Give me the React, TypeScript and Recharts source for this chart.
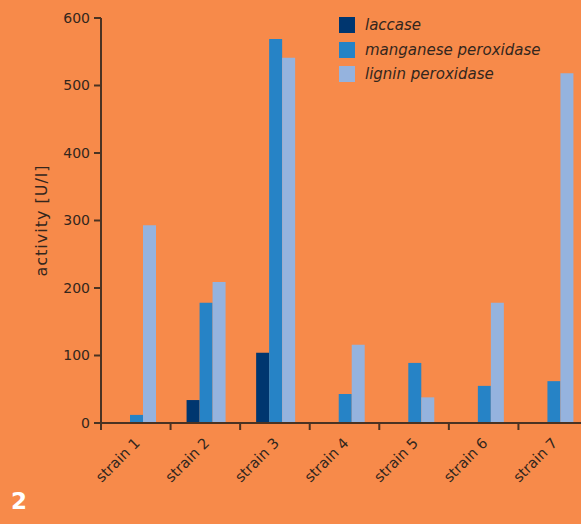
import React from "react";
import { BarChart, Bar, XAxis, YAxis } from "recharts";

const categories = ["strain 1", "strain 2", "strain 3", "strain 4", "strain 5", "strain 6", "strain 7"];
const laccase = [0, 34, 104, 0, 0, 0, 0];
const manganesePeroxidase = [12, 178, 569, 43, 89, 55, 62];
const ligninPeroxidase = [293, 209, 541, 116, 38, 178, 518];
const yTicks = [0, 100, 200, 300, 400, 500, 600];
const seriesNames = ["laccase", "manganese peroxidase", "lignin peroxidase"];
const figureNumber = "2";

const data = categories.map((name, i) => ({
  name,
  laccase: laccase[i],
  mnp: manganesePeroxidase[i],
  lip: ligninPeroxidase[i],
}));

const BG = "#F78A4A";
const AXIS = "#4a3222";
const TEXT = "#33261d";
const COLORS = ["#00366F", "#2683C6", "#95B3DE"];
const FONT = "'DejaVu Sans', 'Noto Sans', sans-serif";

const CHART_W = 590;
const CHART_H = 524;
const M = { top: 18, right: 2, left: 0, bottom: 1 };
const Y_W = 101;
const X_H = 100;
const PLOT_W = CHART_W - M.left - M.right - Y_W;
const BAND = PLOT_W / categories.length;
const AXIS_Y = CHART_H - M.bottom - X_H;

const XTick = (props: any) => {
  const { x, payload } = props;
  const bx = x - BAND / 2;
  const tx = x + 5;
  const ty = AXIS_Y + 21;
  return (
    <g>
      <line x1={bx} y1={AXIS_Y} x2={bx} y2={AXIS_Y + 7} stroke={AXIS} strokeWidth={2} />
      <text
        x={tx}
        y={ty}
        textAnchor="end"
        fill={TEXT}
        fontSize={14.5}
        fontFamily={FONT}
        transform={`rotate(-45, ${tx}, ${ty})`}
      >
        {payload.value}
      </text>
    </g>
  );
};

const YLabel = (props: any) => {
  const vb = props.viewBox;
  const cx = vb.x + 41;
  const cy = vb.y + vb.height / 2;
  return (
    <text
      x={cx}
      y={cy}
      textAnchor="middle"
      dominantBaseline="central"
      fill={TEXT}
      fontSize={16}
      letterSpacing={1}
      fontFamily={FONT}
      transform={`rotate(-90, ${cx}, ${cy})`}
    >
      activity [U/l]
    </text>
  );
};

export default function App() {
  return (
    <div
      style={{
        position: "fixed",
        left: 0,
        top: 0,
        width: 581,
        height: 524,
        overflow: "hidden",
        background: BG,
      }}
    >
      <BarChart
        width={CHART_W}
        height={CHART_H}
        data={data}
        margin={M}
        barCategoryGap="23%"
        barGap={0}
      >
        <XAxis
          dataKey="name"
          type="category"
          height={X_H}
          interval={0}
          axisLine={{ stroke: AXIS, strokeWidth: 2 }}
          tickLine={false}
          tickSize={7}
          tickMargin={0}
          tick={<XTick />}
        />
        <YAxis
          width={Y_W}
          domain={[0, 600]}
          ticks={yTicks}
          interval={0}
          axisLine={{ stroke: AXIS, strokeWidth: 2 }}
          tickLine={{ stroke: AXIS, strokeWidth: 2 }}
          tickSize={7}
          tickMargin={4}
          tick={{ fill: TEXT, fontSize: 14, fontFamily: FONT }}
          label={<YLabel />}
        />
        <Bar dataKey="laccase" name={seriesNames[0]} fill={COLORS[0]} isAnimationActive={false} />
        <Bar dataKey="mnp" name={seriesNames[1]} fill={COLORS[1]} isAnimationActive={false} />
        <Bar dataKey="lip" name={seriesNames[2]} fill={COLORS[2]} isAnimationActive={false} />
      </BarChart>
      <div style={{ position: "absolute", left: 339, top: 13, fontFamily: FONT }}>
        {seriesNames.map((n, i) => (
          <div key={n} style={{ display: "flex", alignItems: "center", height: 24.5 }}>
            <div style={{ width: 16, height: 16, background: COLORS[i], marginRight: 10 }} />
            <span style={{ fontStyle: "italic", fontSize: 15, color: TEXT }}>{n}</span>
          </div>
        ))}
      </div>
      <div
        style={{
          position: "absolute",
          left: 11,
          top: 488,
          color: "#ffffff",
          fontFamily: FONT,
          fontWeight: 700,
          fontSize: 23,
        }}
      >
        {figureNumber}
      </div>
    </div>
  );
}
